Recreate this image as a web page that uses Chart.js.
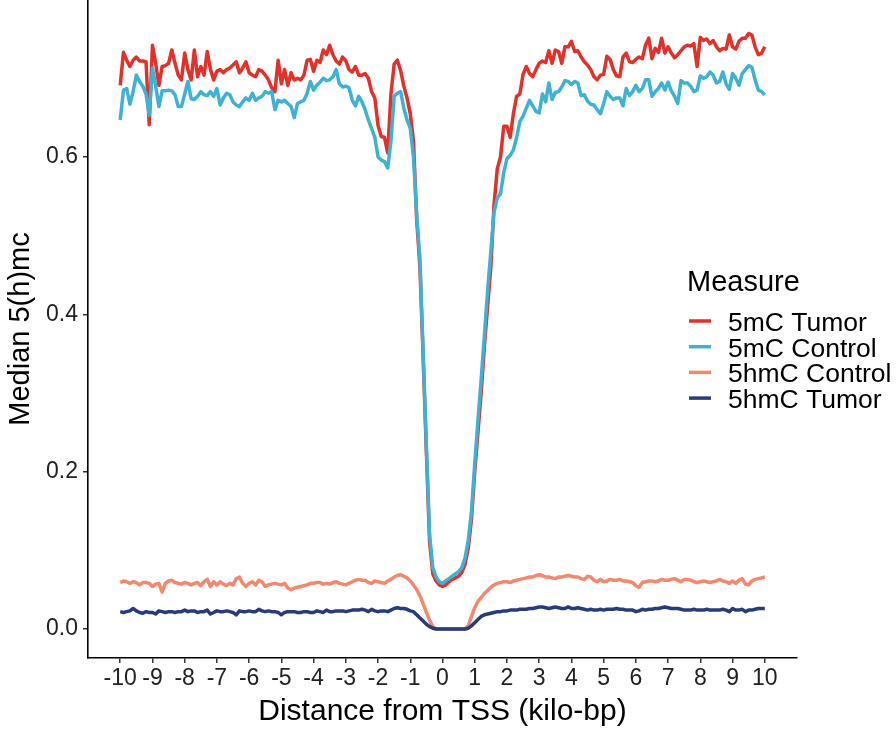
<!DOCTYPE html>
<html>
<head>
<meta charset="utf-8">
<script src="https://cdn.jsdelivr.net/npm/chart.js@4.4.1/dist/chart.umd.min.js"></script>
<style>
html,body{margin:0;padding:0;background:#ffffff;}
#wrap{width:896px;height:733px;position:relative;}
</style>
</head>
<body>
<div id="wrap"><canvas id="c" width="896" height="733"></canvas></div>
<script>
// ---- Data ----
const distanceKb = [
-10,-9.9,-9.8,-9.7,-9.6,-9.5,-9.4,-9.3,-9.2,-9.1,
-9,-8.9,-8.8,-8.7,-8.6,-8.5,-8.4,-8.3,-8.2,-8.1,
-8,-7.9,-7.8,-7.7,-7.6,-7.5,-7.4,-7.3,-7.2,-7.1,
-7,-6.9,-6.8,-6.7,-6.6,-6.5,-6.4,-6.3,-6.2,-6.1,
-6,-5.9,-5.8,-5.7,-5.6,-5.5,-5.4,-5.3,-5.2,-5.1,
-5,-4.9,-4.8,-4.7,-4.6,-4.5,-4.4,-4.3,-4.2,-4.1,
-4,-3.9,-3.8,-3.7,-3.6,-3.5,-3.4,-3.3,-3.2,-3.1,
-3,-2.9,-2.8,-2.7,-2.6,-2.5,-2.4,-2.3,-2.2,-2.1,
-2,-1.9,-1.8,-1.7,-1.6,-1.5,-1.4,-1.3,-1.2,-1.1,
-1,-0.9,-0.8,-0.7,-0.6,-0.5,-0.4,-0.3,-0.2,-0.1,
0,0.1,0.2,0.3,0.4,0.5,0.6,0.7,0.8,0.9,
1,1.1,1.2,1.3,1.4,1.5,1.6,1.7,1.8,1.9,
2,2.1,2.2,2.3,2.4,2.5,2.6,2.7,2.8,2.9,
3,3.1,3.2,3.3,3.4,3.5,3.6,3.7,3.8,3.9,
4,4.1,4.2,4.3,4.4,4.5,4.6,4.7,4.8,4.9,
5,5.1,5.2,5.3,5.4,5.5,5.6,5.7,5.8,5.9,
6,6.1,6.2,6.3,6.4,6.5,6.6,6.7,6.8,6.9,
7,7.1,7.2,7.3,7.4,7.5,7.6,7.7,7.8,7.9,
8,8.1,8.2,8.3,8.4,8.5,8.6,8.7,8.8,8.9,
9,9.1,9.2,9.3,9.4,9.5,9.6,9.7,9.8,9.9,
10
];

const tumor5mC = [
0.691,0.733,0.723,0.715,0.723,0.727,0.722,0.722,0.721,0.641,
0.742,0.719,0.691,0.715,0.716,0.719,0.736,0.719,0.704,0.698,
0.732,0.711,0.698,0.736,0.702,0.715,0.704,0.734,0.711,0.698,
0.709,0.711,0.707,0.711,0.713,0.717,0.721,0.707,0.713,0.721,
0.707,0.704,0.702,0.711,0.709,0.704,0.698,0.688,0.683,0.723,
0.693,0.711,0.691,0.707,0.698,0.700,0.698,0.704,0.723,0.724,
0.709,0.723,0.720,0.736,0.730,0.742,0.730,0.722,0.718,0.727,
0.722,0.711,0.708,0.715,0.704,0.704,0.706,0.700,0.683,0.675,
0.640,0.626,0.625,0.605,0.680,0.718,0.723,0.710,0.690,0.675,
0.655,0.620,0.520,0.460,0.345,0.225,0.110,0.070,0.061,0.056,
0.054,0.056,0.060,0.063,0.065,0.067,0.072,0.082,0.103,0.140,
0.200,0.250,0.300,0.360,0.410,0.460,0.540,0.585,0.600,0.639,
0.639,0.625,0.655,0.677,0.680,0.705,0.715,0.706,0.702,0.711,
0.719,0.722,0.720,0.735,0.719,0.736,0.734,0.719,0.740,0.740,
0.747,0.734,0.735,0.727,0.721,0.717,0.711,0.702,0.698,0.704,
0.705,0.728,0.724,0.711,0.703,0.702,0.727,0.732,0.721,0.720,
0.724,0.727,0.725,0.742,0.751,0.725,0.738,0.733,0.751,0.732,
0.740,0.732,0.726,0.730,0.735,0.740,0.742,0.741,0.744,0.715,
0.752,0.748,0.750,0.744,0.748,0.740,0.735,0.738,0.737,0.755,
0.740,0.737,0.747,0.751,0.751,0.757,0.755,0.740,0.730,0.732,
0.740
];

const control5mC = [
0.647,0.685,0.687,0.667,0.683,0.704,0.696,0.690,0.680,0.653,
0.713,0.690,0.664,0.684,0.684,0.685,0.684,0.679,0.664,0.664,
0.680,0.696,0.674,0.673,0.677,0.683,0.679,0.678,0.683,0.677,
0.687,0.666,0.675,0.681,0.679,0.670,0.666,0.664,0.670,0.675,
0.672,0.681,0.672,0.675,0.677,0.683,0.681,0.683,0.660,0.672,
0.670,0.672,0.668,0.664,0.650,0.668,0.670,0.672,0.681,0.696,
0.685,0.691,0.695,0.700,0.697,0.698,0.702,0.711,0.693,0.689,
0.690,0.688,0.672,0.665,0.677,0.670,0.660,0.647,0.636,0.625,
0.600,0.596,0.594,0.586,0.620,0.677,0.681,0.683,0.662,0.647,
0.636,0.600,0.525,0.470,0.350,0.232,0.120,0.078,0.066,0.060,
0.058,0.061,0.064,0.067,0.070,0.073,0.078,0.090,0.113,0.150,
0.210,0.265,0.317,0.373,0.430,0.480,0.530,0.548,0.553,0.580,
0.598,0.602,0.609,0.625,0.645,0.652,0.662,0.672,0.665,0.658,
0.656,0.680,0.670,0.694,0.673,0.682,0.683,0.689,0.697,0.696,
0.692,0.696,0.694,0.678,0.679,0.671,0.667,0.666,0.660,0.655,
0.668,0.683,0.677,0.673,0.675,0.675,0.665,0.687,0.678,0.683,
0.691,0.683,0.687,0.698,0.698,0.677,0.683,0.687,0.694,0.685,
0.695,0.684,0.677,0.668,0.697,0.694,0.694,0.690,0.683,0.685,
0.703,0.700,0.702,0.708,0.704,0.694,0.696,0.708,0.693,0.686,
0.706,0.700,0.691,0.706,0.711,0.716,0.714,0.698,0.685,0.683,
0.679
];

const control5hmC = [
0.059,0.061,0.060,0.058,0.060,0.059,0.056,0.059,0.059,0.058,
0.054,0.057,0.058,0.047,0.058,0.061,0.062,0.059,0.058,0.057,
0.059,0.058,0.056,0.058,0.059,0.055,0.060,0.063,0.054,0.060,
0.056,0.060,0.057,0.055,0.058,0.056,0.064,0.066,0.058,0.054,
0.058,0.060,0.056,0.062,0.060,0.054,0.056,0.057,0.058,0.057,
0.056,0.058,0.052,0.050,0.052,0.053,0.054,0.055,0.056,0.058,
0.058,0.059,0.059,0.057,0.058,0.057,0.059,0.060,0.058,0.057,
0.056,0.058,0.060,0.062,0.063,0.062,0.062,0.059,0.058,0.061,
0.060,0.059,0.058,0.061,0.063,0.066,0.068,0.069,0.067,0.065,
0.061,0.056,0.050,0.042,0.032,0.021,0.011,0.003,0,0,
0,0,0,0,0,0,0,0,0.004,0.016,
0.027,0.035,0.040,0.045,0.049,0.053,0.056,0.058,0.059,0.060,
0.060,0.059,0.061,0.062,0.063,0.064,0.065,0.066,0.066,0.068,
0.069,0.068,0.066,0.066,0.065,0.064,0.066,0.066,0.067,0.068,
0.067,0.066,0.066,0.064,0.063,0.067,0.066,0.062,0.060,0.063,
0.060,0.061,0.063,0.062,0.062,0.063,0.061,0.061,0.060,0.059,
0.055,0.053,0.059,0.060,0.061,0.061,0.060,0.061,0.063,0.062,
0.062,0.063,0.064,0.062,0.060,0.063,0.063,0.062,0.060,0.059,
0.060,0.061,0.060,0.059,0.060,0.061,0.063,0.061,0.060,0.058,
0.061,0.058,0.062,0.064,0.057,0.056,0.061,0.063,0.064,0.065,
0.066
];

const tumor5hmC = [
0.022,0.021,0.022,0.023,0.026,0.023,0.021,0.020,0.022,0.021,
0.021,0.019,0.023,0.022,0.021,0.022,0.022,0.021,0.022,0.022,
0.024,0.022,0.023,0.023,0.021,0.022,0.022,0.024,0.019,0.021,
0.023,0.022,0.022,0.023,0.022,0.021,0.018,0.023,0.022,0.022,
0.023,0.022,0.022,0.025,0.023,0.022,0.023,0.022,0.022,0.021,
0.018,0.021,0.022,0.022,0.022,0.021,0.021,0.022,0.022,0.021,
0.021,0.023,0.022,0.021,0.024,0.022,0.022,0.023,0.023,0.023,
0.022,0.023,0.024,0.024,0.024,0.025,0.024,0.022,0.025,0.023,
0.022,0.023,0.023,0.022,0.024,0.026,0.027,0.026,0.026,0.025,
0.023,0.022,0.018,0.014,0.010,0.006,0.003,0.001,0,0,
0,0,0,0,0,0,0,0,0.001,0.004,
0.008,0.012,0.016,0.018,0.019,0.020,0.021,0.022,0.022,0.023,
0.023,0.024,0.024,0.024,0.025,0.025,0.025,0.026,0.026,0.027,
0.028,0.028,0.027,0.026,0.027,0.028,0.027,0.026,0.026,0.028,
0.026,0.026,0.027,0.026,0.025,0.024,0.025,0.024,0.024,0.025,
0.024,0.025,0.025,0.025,0.026,0.025,0.025,0.024,0.024,0.024,
0.022,0.023,0.025,0.024,0.025,0.025,0.026,0.026,0.027,0.028,
0.027,0.026,0.026,0.026,0.025,0.024,0.024,0.024,0.025,0.024,
0.024,0.024,0.025,0.024,0.024,0.024,0.024,0.025,0.024,0.022,
0.026,0.024,0.024,0.025,0.022,0.024,0.024,0.025,0.026,0.026,
0.026
];

const seriesNames = ['5mC Tumor', '5mC Control', '5hmC Control', '5hmC Tumor'];
const xTickValues = [-10,-9,-8,-7,-6,-5,-4,-3,-2,-1,0,1,2,3,4,5,6,7,8,9,10];
const xTickLabels = ['-10','-9','-8','-7','-6','-5','-4','-3','-2','-1','0','1','2','3','4','5','6','7','8','9','10'];
const yTickValues = [0, 0.2, 0.4, 0.6];
const yTickLabels = ['0.0', '0.2', '0.4', '0.6'];
const legendTitle = 'Measure';
const xAxisTitle = 'Distance from TSS (kilo-bp)';
const yAxisTitle = 'Median 5(h)mc';

// ---- Styles ----
const seriesColors = ['#E2302A', '#3FB2D4', '#F2886D', '#293C7A'];
const FONT = "'Liberation Sans', Arial, Helvetica, sans-serif";

const seriesData = [tumor5mC, control5mC, control5hmC, tumor5hmC];

const datasets = seriesNames.map((name, k) => ({
  label: name,
  data: distanceKb.map((x, i) => ({ x: x, y: seriesData[k][i] })),
  borderColor: seriesColors[k],
  backgroundColor: seriesColors[k],
  borderWidth: 3.5,
  pointRadius: 0,
  pointHoverRadius: 0,
  tension: 0,
  fill: false,
  borderJoinStyle: 'round',
  order: seriesNames.length - k
}));

const legendPlugin = {
  id: 'measureLegend',
  afterDraw(chart) {
    const ctx = chart.ctx;
    ctx.save();
    ctx.fillStyle = '#000000';
    ctx.textAlign = 'left';
    ctx.textBaseline = 'alphabetic';
    ctx.font = '29px ' + FONT;
    ctx.fillText(legendTitle, 687, 291);
    ctx.font = '26.5px ' + FONT;
    seriesNames.forEach((name, k) => {
      const y = 321 + k * 25.7;
      ctx.strokeStyle = seriesColors[k];
      ctx.lineWidth = 3.5;
      ctx.beginPath();
      ctx.moveTo(689, y);
      ctx.lineTo(711, y);
      ctx.stroke();
      ctx.fillStyle = '#000000';
      ctx.fillText(name, 728, y + 10);
    });
    ctx.restore();
  }
};

new Chart(document.getElementById('c'), {
  type: 'line',
  data: { datasets: datasets },
  options: {
    responsive: false,
    animation: false,
    devicePixelRatio: 1,
    layout: { padding: { left: 0, right: 99, top: 0, bottom: 0 } },
    plugins: {
      legend: { display: false },
      tooltip: { enabled: false }
    },
    scales: {
      x: {
        type: 'linear',
        min: -11,
        max: 11,
        afterBuildTicks: (s) => { s.ticks = xTickValues.map(v => ({ value: v })); },
        afterFit: (s) => { s.height = 75; s.paddingLeft = 0; s.paddingRight = 0; },
        ticks: {
          autoSkip: false,
          maxRotation: 0,
          minRotation: 0,
          padding: 2,
          color: '#222222',
          font: { family: FONT, size: 23 },
          callback: (v) => { const i = xTickValues.indexOf(v); return i >= 0 ? xTickLabels[i] : ''; }
        },
        grid: { display: true, drawOnChartArea: false, drawTicks: true, tickLength: 5, color: '#333333', lineWidth: 1.5 },
        border: { display: true, color: '#000000', width: 1.6 },
        title: { display: true, text: xAxisTitle, color: '#000000', font: { family: FONT, size: 30 }, padding: { top: 0, bottom: 3 } }
      },
      y: {
        type: 'linear',
        min: -0.0369,
        max: 0.7995,
        afterBuildTicks: (s) => { s.ticks = yTickValues.map(v => ({ value: v })); },
        afterFit: (s) => { s.width = 88; s.paddingTop = 0; s.paddingBottom = 0; },
        ticks: {
          padding: 5,
          color: '#222222',
          font: { family: FONT, size: 23 },
          callback: (v) => { const i = yTickValues.indexOf(v); return i >= 0 ? yTickLabels[i] : ''; }
        },
        grid: { display: true, drawOnChartArea: false, drawTicks: true, tickLength: 5, color: '#333333', lineWidth: 1.5 },
        border: { display: true, color: '#000000', width: 1.6 },
        title: { display: true, text: yAxisTitle, color: '#000000', font: { family: FONT, size: 29 }, padding: { top: 4, bottom: 0 } }
      }
    }
  },
  plugins: [legendPlugin]
});
</script>
</body>
</html>
